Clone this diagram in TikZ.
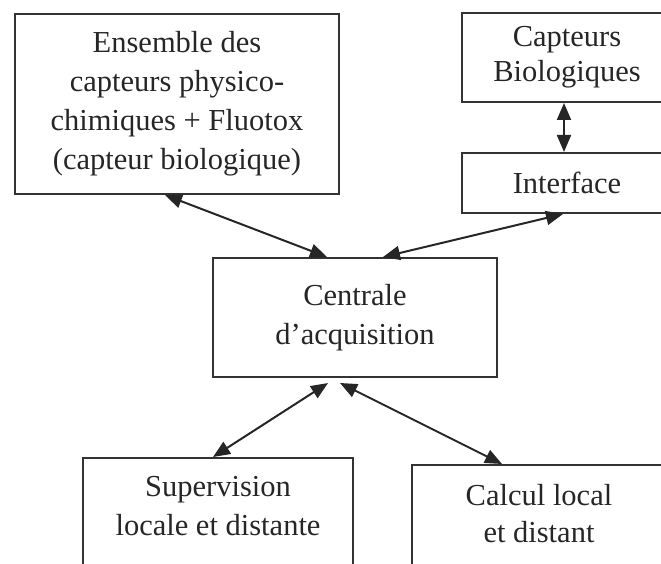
\documentclass[tikz,border=0pt]{standalone}
\usepackage{fontspec}
\setmainfont{Liberation Serif}
\usetikzlibrary{arrows.meta,positioning}

\tikzset{
  bloc/.style={draw=black!80, line width=2pt, align=center, inner sep=0pt,
    text=black!85, font=\fontsize{30.5}{39}\selectfont},
  fleche/.style={{Triangle[length=17pt,width=14pt]}-{Triangle[length=17pt,width=14pt]},
    draw=black!85, line width=2pt}
}

\begin{document}
\begin{tikzpicture}[x=1pt,y=-1pt]
  \useasboundingbox (0,0) rectangle (661,564);
  \clip (0,0) rectangle (661,564);

  \node[bloc, minimum width=324, minimum height=180] (ens) at (177,104) {Ensemble des\\capteurs physico-\\chimiques + Fluotox\\(capteur biologique)};
  \node[bloc, minimum width=210, minimum height=89, font=\fontsize{30.5}{35}\selectfont] (bio) at (567,57.5) {Capteurs\\Biologiques};
  \node[bloc, minimum width=210, minimum height=60] (int) at (567,183) {Interface};
  \node[bloc, minimum width=284, minimum height=119] (cen) at (355,317.5) {Centrale\\d'acquisition};
  \node[bloc, anchor=north, minimum width=270, inner ysep=18pt, text depth=90pt] (sup) at (218,457) {Supervision\\locale et distante};
  \node[bloc, anchor=north, minimum width=254, inner ysep=19pt, text depth=90pt, font=\fontsize{30.5}{37}\selectfont] (cal) at (539,464) {Calcul local\\et distant};

  \draw[fleche] ([xshift=-3pt]bio.south) -- ([xshift=-3pt]int.north);
  \draw[fleche] ([xshift=-12pt]ens.south) -- ([xshift=-28pt]cen.north);
  \draw[fleche] ([xshift=-4pt]int.south) -- ([xshift=28pt]cen.north);
  \draw[fleche] ([xshift=-27pt,yshift=-5pt]cen.south) -- ([xshift=-5pt]sup.north);
  \draw[fleche] ([xshift=-15pt,yshift=-5pt]cen.south) -- ([xshift=-37pt]cal.north);
\end{tikzpicture}
\end{document}
